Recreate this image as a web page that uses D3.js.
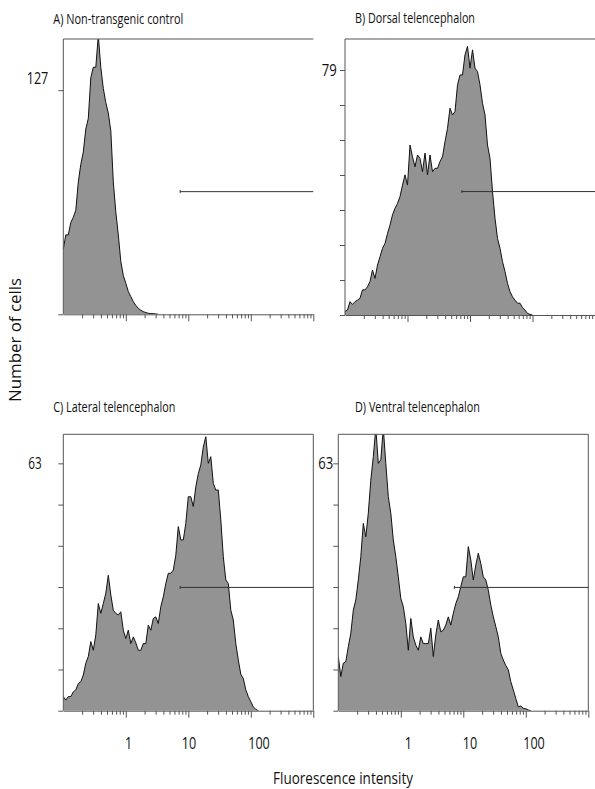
<!DOCTYPE html>
<html>
<head>
<meta charset="utf-8">
<script src="https://cdn.jsdelivr.net/npm/d3@7"></script>
<style>
  body { margin: 0; background: #fff; }
  text { font-family: "Open Sans", sans-serif; fill: #111; }
  .axis path, .axis line { stroke: #555; stroke-width: 1; }
</style>
</head>
<body>
<div id="chart"></div>
<script>
// histogram counts, one value per channel (channel width 0.04 decade, first channel at 0.1)
const channelStart = -1;
const channelStep = 0.04;

const histA = [37, 45, 45, 52, 55, 59, 75, 85, 92, 105, 111, 134, 140, 140, 158, 140, 128, 120, 114, 104,
  75, 58, 45, 30, 22, 17.6, 12.9, 10, 7.2, 5, 3.4, 2.3, 1.5, 1, 0.6, 0.4, 0.4, 0.2, 0];

const histB = [1.1, 1.6, 4.3, 3.4, 4.3, 4.8, 5.4, 8.1, 8.1, 9.1, 10.8, 14.5, 11.8, 16.1, 18.8, 21.5, 23.1, 26.3,
  29, 32.3, 34.4, 36, 38.2, 41.9, 45.2, 41.9, 54.8, 51, 47.8, 51.6, 50.5, 46.2, 52.2, 45.2, 51.6, 46.2, 47.3,
  47.3, 49.5, 51, 55.9, 60.2, 66.7, 64.5, 65.6, 74.2, 77.4, 77.4, 83.9, 86.6, 79.6, 85.5, 79.6, 78.5, 74.2,
  68.3, 64.5, 54.8, 50.5, 39.8, 31.2, 24.7, 21.5, 17.2, 14, 10.2, 7.5, 5.9, 4.8, 3.8, 3.8, 2.4, 1.6, 0.5, 0.2, 0];

const histC = [3.6, 2.7, 3.6, 3.6, 4.8, 5.3, 6.9, 7.4, 9.1, 12.1, 13.8, 17.6, 15.4, 19.3, 27.3, 24.8, 27.3,
  29.9, 34.5, 29.5, 25.6, 24.8, 24.4, 25.2, 20.5, 18.4, 20.5, 17.1, 18.8, 17.3, 15.4, 15.4, 17.1, 17.1, 21.8,
  20.5, 23.5, 23.9, 22.2, 26.5, 29, 32.4, 35, 35, 35.8, 39.6, 46.9, 43.5, 43.5, 47.7, 54.5, 54.5, 52, 57, 60.4,
  62.6, 67.2, 69.8, 63, 64.7, 57.9, 56.2, 56.2, 48.6, 39.2, 33.3, 32.4, 25.6, 23.1, 17.1, 12.9, 9.3, 8.2, 5.3,
  3.6, 2.3, 1, 0.3, 0];

const histD = [13.8, 8.7, 12.1, 12.5, 16.3, 19.7, 25.6, 28.2, 33.3, 39.2, 47.7, 44.3, 50.3, 58.7, 64.7, 72, 63,
  63.9, 72, 63, 54.5, 50.3, 43.5, 39.2, 34.1, 28.6, 26.5, 22.2, 15.4, 23.5, 18.8, 16.7, 15.4, 18.8, 17.1, 17.1,
  17.1, 21, 13.8, 19.3, 23.1, 20.1, 20.5, 21.8, 23.9, 21.8, 24.8, 27.3, 29, 31.6, 34.1, 34.1, 41.8, 38.4, 33.3,
  37.1, 40.1, 37.5, 34.1, 33.3, 30.7, 26.9, 23.9, 21.4, 18.8, 14.6, 12.9, 11.5, 10.4, 7.4, 5.3, 3.1, 1, 1.2,
  0.6, 0.5, 0.2, 0];

const panelTitles = ["A) Non-transgenic control", "B) Dorsal telencephalon",
  "C) Lateral telencephalon", "D) Ventral telencephalon"];
const yMax = [156, 89, 70.4, 70.4];          // count at top of each frame
const yLabelValue = [127, 79, 63, 63];      // labelled tick
const yTickDivisions = [1, 7, 6, 6];        // ticks between 0 and labelled tick
const gateStart = [7.4, 7.4, 7.4, 7.2];
const gateLevel = [69.5, 39.8, 31.4, 31.4];
const xDomain = [0.1, 1000];
const xTickLabels = [1, 10, 100];

const svgWidth = 595;
const svgHeight = 789;

// layout of the four frames
const panels = [
  { left: 63.3, top: 39, w: 250, h: 275.3, right: false, titleX: 53.3, titleY: 24, titleLen: 130,
    yLabX: 26.7, yLabDy: -6, yLabLen: 21.6, xLabels: false },
  { left: 345, top: 39, w: 250, h: 276, right: false, titleX: 355, titleY: 23, titleLen: 120,
    yLabX: 321.7, yLabDy: 6, yLabLen: 15, xLabels: false },
  { left: 63.3, top: 434.3, w: 250, h: 276.4, right: true, titleX: 53.3, titleY: 411.5, titleLen: 122,
    yLabX: 28.3, yLabDy: 6, yLabLen: 13.4, xLabels: true, xLabDx: [2.7, 0.7, 8.2] },
  { left: 338.3, top: 434.3, w: 250, h: 276.4, right: true, titleX: 355, titleY: 411.5, titleLen: 125,
    yLabX: 318.3, yLabDy: 6, yLabLen: 15, xLabels: true, xLabDx: [7.5, 6.7, 8.2] }
];
const hists = [histA, histB, histC, histD];

const svg = d3.select("#chart")
  .append("svg")
  .attr("width", svgWidth)
  .attr("height", svgHeight);

svg.append("rect").attr("width", svgWidth).attr("height", svgHeight).attr("fill", "#fff");

// minor and major tick values on the log axis
const majorTicks = [1, 10, 100, 1000];
const minorTicks = [];
[-1, 0, 1, 2].forEach(k => {
  for (let m = 2; m <= 9; m++) minorTicks.push(m * Math.pow(10, k));
});

panels.forEach((p, i) => {
  const g = svg.append("g").attr("transform", `translate(${p.left}, ${p.top})`);

  const x = d3.scaleLog().domain(xDomain).range([0, p.w]);
  const y = d3.scaleLinear().domain([0, yMax[i]]).range([p.h, 0]);

  g.append("clipPath").attr("id", "clip" + i)
    .append("rect").attr("width", p.w).attr("height", p.h);

  const pts = hists[i].map((v, j) => ({ f: Math.pow(10, channelStart + j * channelStep), v: v }));

  const area = d3.area()
    .x(d => x(d.f))
    .y0(p.h)
    .y1(d => y(d.v));
  const line = d3.line()
    .x(d => x(d.f))
    .y(d => y(d.v));

  const plot = g.append("g").attr("clip-path", `url(#clip${i})`);
  plot.append("path")
    .datum(pts)
    .attr("d", area)
    .attr("fill", "#939393");
  plot.append("path")
    .datum(pts)
    .attr("d", line)
    .attr("fill", "none")
    .attr("stroke", "#111")
    .attr("stroke-width", 1)
    .attr("stroke-linejoin", "miter");

  // frame: top, left, optional right
  g.append("line").attr("x1", 0).attr("x2", p.w).attr("y1", 0).attr("y2", 0)
    .attr("stroke", "#555");
  g.append("line").attr("x1", 0).attr("x2", 0).attr("y1", 0).attr("y2", p.h)
    .attr("stroke", "#555");
  if (p.right) {
    g.append("line").attr("x1", p.w).attr("x2", p.w).attr("y1", 0).attr("y2", p.h)
      .attr("stroke", "#555");
  }

  // x axis: minor and major ticks
  g.append("g").attr("class", "axis")
    .attr("transform", `translate(0, ${p.h})`)
    .call(d3.axisBottom(x).tickValues(minorTicks).tickSize(4).tickSizeOuter(0).tickFormat(""));
  g.append("g").attr("class", "axis")
    .attr("transform", `translate(0, ${p.h})`)
    .call(d3.axisBottom(x).tickValues(majorTicks).tickSize(7).tickSizeOuter(0).tickFormat(""))
    .select(".domain").remove();

  // y axis ticks
  const yTicks = d3.range(yTickDivisions[i] + 1).map(k => yLabelValue[i] * k / yTickDivisions[i]);
  g.append("g").attr("class", "axis")
    .call(d3.axisLeft(y).tickValues(yTicks).tickSize(5).tickSizeOuter(0).tickFormat(""))
    .select(".domain").remove();

  // y label on the top tick
  svg.append("text")
    .attr("x", p.yLabX)
    .attr("y", p.top + y(yLabelValue[i]) + p.yLabDy)
    .attr("font-size", 17)
    .attr("textLength", p.yLabLen)
    .attr("lengthAdjust", "spacingAndGlyphs")
    .text(yLabelValue[i]);

  // gate marker
  const gy = y(gateLevel[i]);
  g.append("line")
    .attr("x1", x(gateStart[i])).attr("x2", x(xDomain[1]))
    .attr("y1", gy).attr("y2", gy)
    .attr("stroke", "#333").attr("stroke-width", 1);
  g.append("line")
    .attr("x1", x(gateStart[i])).attr("x2", x(gateStart[i]))
    .attr("y1", gy - 1.5).attr("y2", gy + 1.5)
    .attr("stroke", "#333").attr("stroke-width", 1);

  // panel title
  svg.append("text")
    .attr("x", p.titleX)
    .attr("y", p.titleY)
    .attr("font-size", 15)
    .attr("textLength", p.titleLen)
    .attr("lengthAdjust", "spacingAndGlyphs")
    .text(panelTitles[i]);

  // decade labels on bottom panels
  if (p.xLabels) {
    g.selectAll(".xlab")
      .data(xTickLabels)
      .enter()
      .append("text")
      .attr("x", (d, k) => x(d) + p.xLabDx[k])
      .attr("y", p.h + 38)
      .attr("text-anchor", "middle")
      .attr("font-size", 17)
      .attr("textLength", d => String(d).length * 7.2)
      .attr("lengthAdjust", "spacingAndGlyphs")
      .text(d => d);
  }
});

// shared axis titles
svg.append("text")
  .attr("transform", "translate(20.5, 340) rotate(-90)")
  .attr("text-anchor", "middle")
  .attr("font-size", 16)
  .attr("textLength", 124)
  .attr("lengthAdjust", "spacingAndGlyphs")
  .text("Number of cells");

svg.append("text")
  .attr("x", 273)
  .attr("y", 784)
  .attr("font-size", 17)
  .attr("textLength", 140)
  .attr("lengthAdjust", "spacingAndGlyphs")
  .text("Fluorescence intensity");
</script>
</body>
</html>
